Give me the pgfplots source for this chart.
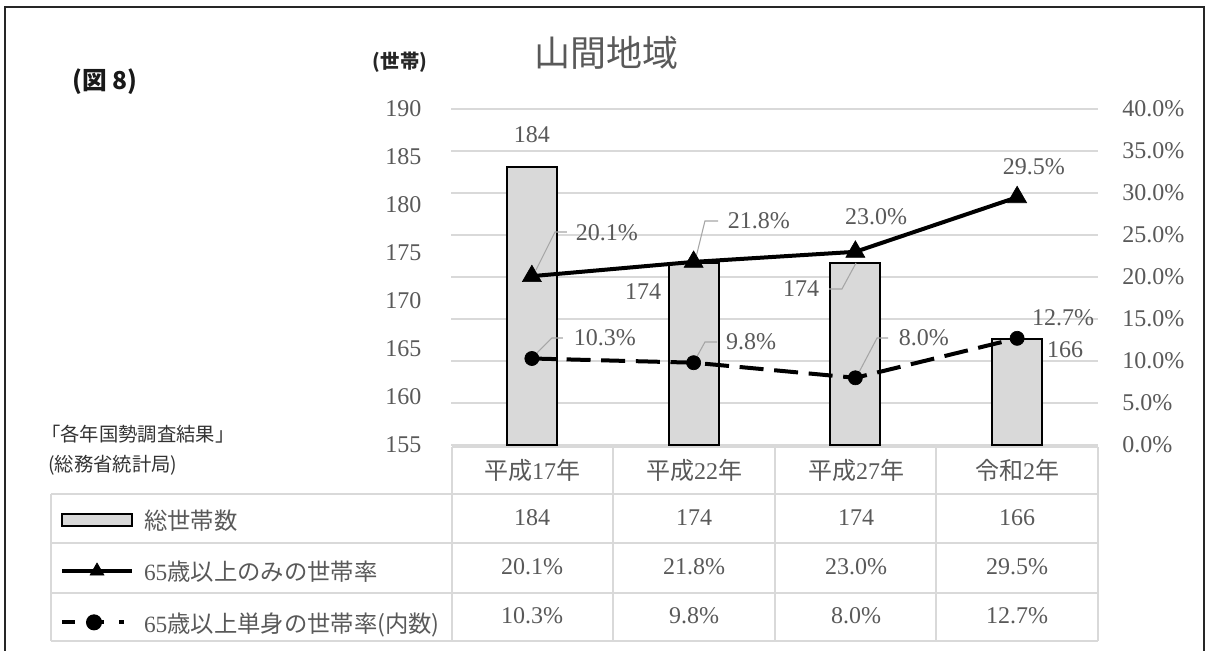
\documentclass[border=0pt]{standalone}
\usepackage{fontspec}
\setmainfont{Liberation Serif}
\newfontfamily\jp{Noto Sans CJK JP}
\usepackage{pgfplots}
\pgfplotsset{compat=1.18}
\definecolor{txt}{HTML}{595959}
\definecolor{gridc}{HTML}{D9D9D9}
\definecolor{barc}{HTML}{D9D9D9}
\definecolor{lead}{HTML}{A6A6A6}
\newcommand\J[1]{{\jp #1}}
\newcommand\fs[1]{\fontsize{#1}{#1}\selectfont}
\pgfplotsset{
  base/.style={scale only axis, width=485.25pt, height=252pt,
    at={(338.25pt,-333.75pt)}, anchor=south west,
    xmin=-0.5, xmax=3.5, xtick=\empty,
    axis line style={draw=none}, major tick length=0pt,
    tick label style={font=\fs{18}, text=txt},
    /pgf/number format/assume math mode=true},
}
\tikzset{
  lab/.style={font=\fs{18}, text=txt, inner sep=0pt},
  leader/.style={draw=lead, line width=0.8pt},
}
\begin{document}
\begin{tikzpicture}
\begin{scope}[x=0.75pt,y=-0.75pt]
\useasboundingbox (0,0) rectangle (1206,650);
\draw[line width=1.5pt, black!85] (5,660) -- (5,7) -- (1204,7) -- (1204,660);
% titles
\node[font=\jp\fs{27}, text=txt, inner sep=0pt] at (606,53) {山間地域};
\node[font=\jp\bfseries\fs{14.5}, text=black!85, inner sep=0pt] at (400,62) {(世帯)};
\node[font=\jp\bfseries\fs{18.5}, text=black!90, inner sep=0pt] at (105,82) {(図 8)};
\node[font=\jp\fs{14.5}, text=black!80, inner sep=0pt, anchor=west] at (41,434) {「各年国勢調査結果」};
\node[font=\jp\fs{14.5}, text=black!80, inner sep=0pt, anchor=west] at (48,465) {(総務省統計局)};
% table grid
\begin{scope}[draw=gridc, line width=1.1pt]
\draw (452,447) -- (1098,447);
\foreach \yy in {494,543,593,641} \draw (51,\yy) -- (1098,\yy);
\draw (51,494) -- (51,641);
\foreach \xx in {452,613,775,936,1098} \draw (\xx,447) -- (\xx,641);
\end{scope}
% table text
\begin{scope}[every node/.style={font=\fs{18}, text=txt, inner sep=0pt}]
\node at (532,470) {\J{平成}17\J{年}};
\node at (694,470) {\J{平成}22\J{年}};
\node at (856,470) {\J{平成}27\J{年}};
\node at (1017,470) {\J{令和}2\J{年}};
\node at (532,518) {184};
\node at (694,518) {174};
\node at (856,518) {174};
\node at (1017,518) {166};
\node at (532,567) {20.1\%};
\node at (694,567) {21.8\%};
\node at (856,567) {23.0\%};
\node at (1017,567) {29.5\%};
\node at (532,616) {10.3\%};
\node at (694,616) {9.8\%};
\node at (856,616) {8.0\%};
\node at (1017,616) {12.7\%};
\end{scope}
\end{scope}

% axis 1: grid and right-hand tick labels
\begin{axis}[base, ymin=0, ymax=40, ytick={0,5,...,40},
  ymajorgrids, grid style={gridc, line width=1pt},
  yticklabel pos=right,
  yticklabel={\pgfmathprintnumber[fixed,fixed zerofill,precision=1]{\tick}\%},
  yticklabel style={anchor=west, inner sep=0pt, xshift=18pt}]
\end{axis}

% axis 2: bars, left-hand scale
\begin{axis}[base, ymin=155, ymax=190, ytick={155,160,...,190},
  yticklabel style={anchor=east, inner sep=0pt, xshift=-22pt}]
\addplot[ybar, bar width=37.5pt, fill=barc, draw=black, line width=1.5pt]
  coordinates {(0,184) (1,174) (2,174) (3,166)};
\node[lab] at (axis cs:0,187.3) {184};
\node[lab] at (axis cs:0.687,170.94) {174};
\node[lab] at (axis cs:1.664,171.25) {174};
\node[lab] at (axis cs:3.296,164.9) {166};
\draw[leader] (axis cs:1.837,171.25) -- (axis cs:1.917,171.25) -- (axis cs:2.004,173.96);
\end{axis}

% axis 3: lines, legend
\begin{axis}[base, ymin=0, ymax=40, ytick=\empty, clip=false,
  legend cell align=left,
  legend style={at={(-0.6043,-0.1792)}, anchor=north west, draw=none, fill=none,
    inner sep=0pt, outer sep=0pt, row sep=16.8pt, font=\fs{17.5}, text=txt,
    cells={anchor=west, inner xsep=0pt, inner ysep=0pt, text height=16.2pt, text depth=3pt},
    /tikz/every odd column/.append style={column sep=5.5pt}}]
\addlegendimage{legend image code/.code={\draw[fill=barc, draw=black, line width=1.5pt] (0pt,-4.6pt) rectangle (52.5pt,4.6pt);}}
\addlegendentry{\J{総世帯数}}
\draw[leader] (axis cs:0.217,25.36) -- (axis cs:0.143,25.36) -- (axis cs:0.0255,20.83);
\draw[leader] (axis cs:1.151,26.67) -- (axis cs:1.070,26.67) -- (axis cs:1.009,21.9);
\draw[leader] (axis cs:0.192,12.74) -- (axis cs:0.124,12.74) -- (axis cs:0.019,10.71);
\draw[leader] (axis cs:1.145,12.26) -- (axis cs:1.070,12.26) -- (axis cs:1.009,10.12);
\draw[leader] (axis cs:2.202,12.74) -- (axis cs:2.134,12.74) -- (axis cs:2.010,8.21);
\addplot[black, line width=3pt, mark=triangle*, mark size=8.2pt, mark options={solid, line width=0.5pt},
  legend image code/.code={\draw[mark repeat=2, mark phase=2, mark size=6pt] plot coordinates {(0pt,0pt) (26.25pt,0pt) (52.5pt,0pt)};}]
  coordinates {(0,20.1) (1,21.8) (2,23.0) (3,29.5)};
\addlegendentry{65\J{歳以上のみの世帯率}}
\addplot[black, line width=3pt, dash pattern=on 18pt off 8pt, mark=*, mark size=5.3pt, mark options={solid, line width=0.5pt},
  legend image code/.code={\draw[dash pattern=on 9.75pt off 9pt on 12.75pt off 11.25pt on 3.75pt off 20pt] (0pt,0pt) -- (46.5pt,0pt);
    \draw[mark=*, mark size=4.5pt, mark options={solid}] plot coordinates {(24pt,0pt)};}]
  coordinates {(0,10.3) (1,9.8) (2,8.0) (3,12.7)};
\addlegendentry{65\J{歳以上単身の世帯率(内数)}}
\node[lab] at (axis cs:0.464,25.24) {20.1\%};
\node[lab] at (axis cs:1.404,26.67) {21.8\%};
\node[lab] at (axis cs:2.128,27.14) {23.0\%};
\node[lab] at (axis cs:3.104,33.10) {29.5\%};
\node[lab] at (axis cs:0.452,12.74) {10.3\%};
\node[lab] at (axis cs:1.355,12.26) {9.8\%};
\node[lab] at (axis cs:2.424,12.74) {8.0\%};
\node[lab] at (axis cs:3.284,15.12) {12.7\%};
\end{axis}
\end{tikzpicture}
\end{document}
